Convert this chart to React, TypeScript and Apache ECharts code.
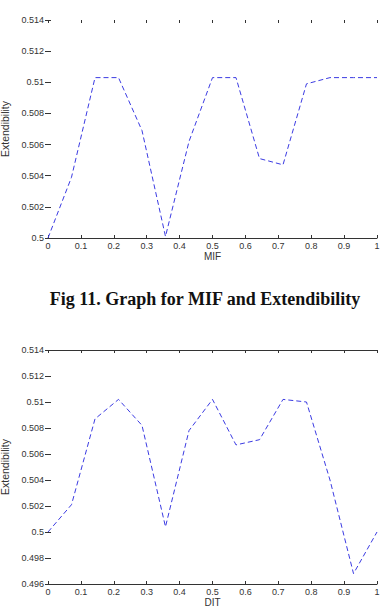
import React, { useEffect, useRef } from "react";
import * as echarts from "echarts";

// Sample positions shared by both curves (fraction of the range, 15 samples)
const samplePositions = [
  0, 0.0714, 0.1429, 0.2143, 0.2857, 0.3571, 0.4286, 0.5, 0.5714, 0.6429,
  0.7143, 0.7857, 0.8571, 0.9286, 1,
];

// Extendibility measured against MIF
const mifExtendibility = [
  0.5, 0.5039, 0.5103, 0.5103, 0.5069, 0.5001, 0.5062, 0.5103, 0.5103, 0.5051,
  0.5047, 0.5099, 0.5103, 0.5103, 0.5103,
];

// Extendibility measured against DIT
const ditExtendibility = [
  0.5, 0.5021, 0.5087, 0.5102, 0.5082, 0.5004, 0.5078, 0.5102, 0.5067, 0.5071,
  0.5102, 0.51, 0.504, 0.4968, 0.5,
];

const xTicks = [0, 0.1, 0.2, 0.3, 0.4, 0.5, 0.6, 0.7, 0.8, 0.9, 1];
const mifYRange = [0.5, 0.514];
const ditYRange = [0.496, 0.514];
const yStep = 0.002;

const captionText = "Fig 11. Graph for MIF and Extendibility";
const mifAxisName = "MIF";
const ditAxisName = "DIT";
const yAxisName = "Extendibility";

const LABEL_FONT = "'Liberation Sans', Arial, sans-serif";
const AXIS_COLOR = "#333";
const LINE_COLOR = "#3b3be2";

function xLabel(v: number): string {
  if (Math.abs(v) < 1e-9) return "0";
  if (Math.abs(v - 1) < 1e-9) return "1";
  return v.toFixed(1);
}

function yLabel(v: number): string {
  return String(Number(v.toFixed(3)));
}

function pairs(values: number[]): [number, number][] {
  return values.map((v, i) => [samplePositions[i], v]);
}

export default function App() {
  const ref = useRef<HTMLDivElement>(null);

  useEffect(() => {
    if (!ref.current) return;
    const chart = echarts.init(ref.current, undefined, { renderer: "svg" });

    const grids = [
      { left: 48, width: 329, top: 20, height: 218, outerBoundsMode: "none", containLabel: false },
      { left: 48, width: 329, top: 350, height: 234, outerBoundsMode: "none", containLabel: false },
    ];

    const bottomXAxis = (gridIndex: number, name: string) => ({
      type: "value" as const,
      gridIndex,
      position: "bottom" as const,
      min: xTicks[0],
      max: xTicks[xTicks.length - 1],
      interval: 0.1,
      name,
      nameLocation: "middle" as const,
      nameGap: 13,
      nameTextStyle: { fontFamily: LABEL_FONT, fontSize: 10, color: AXIS_COLOR },
      axisLine: { show: true, lineStyle: { color: AXIS_COLOR, width: 1 } },
      axisTick: { show: true, inside: true, length: 3, lineStyle: { color: AXIS_COLOR } },
      axisLabel: {
        show: true,
        margin: 3,
        fontFamily: LABEL_FONT,
        fontSize: 9,
        color: AXIS_COLOR,
        formatter: xLabel,
      },
      splitLine: { show: false },
    });

    const topXAxis = (gridIndex: number, showLine: boolean) => ({
      type: "value" as const,
      gridIndex,
      position: "top" as const,
      min: xTicks[0],
      max: xTicks[xTicks.length - 1],
      interval: 0.1,
      axisLine: { show: showLine, lineStyle: { color: AXIS_COLOR, width: 1 } },
      axisTick: { show: true, inside: true, length: 3, lineStyle: { color: AXIS_COLOR } },
      axisLabel: { show: false },
      splitLine: { show: false },
    });

    const leftYAxis = (gridIndex: number, range: number[]) => ({
      type: "value" as const,
      gridIndex,
      position: "left" as const,
      min: range[0],
      max: range[1],
      interval: yStep,
      name: yAxisName,
      nameLocation: "middle" as const,
      nameRotate: 90,
      nameGap: 35,
      nameTextStyle: { fontFamily: LABEL_FONT, fontSize: 10.5, color: AXIS_COLOR },
      axisLine: { show: false },
      axisTick: { show: true, inside: true, length: 3, lineStyle: { color: AXIS_COLOR } },
      axisLabel: {
        show: true,
        margin: 4,
        fontFamily: LABEL_FONT,
        fontSize: 9,
        color: AXIS_COLOR,
        formatter: yLabel,
      },
      splitLine: { show: false },
    });

    const rightYAxis = (gridIndex: number, range: number[]) => ({
      type: "value" as const,
      gridIndex,
      position: "right" as const,
      min: range[0],
      max: range[1],
      interval: yStep,
      axisLine: { show: false },
      axisTick: { show: true, inside: true, length: 3, lineStyle: { color: AXIS_COLOR } },
      axisLabel: { show: false },
      splitLine: { show: false },
    });

    const lineSeries = (axisIndex: number, values: number[]) => ({
      type: "line" as const,
      xAxisIndex: axisIndex * 2,
      yAxisIndex: axisIndex * 2,
      data: pairs(values),
      showSymbol: false,
      symbol: "none",
      lineStyle: { color: LINE_COLOR, width: 1, type: [5, 3] as number[] },
    });

    chart.setOption({
      animation: false,
      backgroundColor: "#ffffff",
      grid: grids,
      xAxis: [
        bottomXAxis(0, mifAxisName),
        topXAxis(0, false),
        bottomXAxis(1, ditAxisName),
        topXAxis(1, true),
      ],
      yAxis: [
        leftYAxis(0, mifYRange),
        rightYAxis(0, mifYRange),
        leftYAxis(1, ditYRange),
        rightYAxis(1, ditYRange),
      ],
      series: [lineSeries(0, mifExtendibility), lineSeries(1, ditExtendibility)],
      graphic: [
        {
          type: "text",
          x: 205,
          y: 299,
          style: {
            text: captionText,
            fontFamily: "'Liberation Serif', 'Times New Roman', serif",
            fontWeight: "bold",
            fontSize: 18,
            fill: "#111",
            align: "center",
            verticalAlign: "middle",
          },
        },
      ],
    });

    return () => chart.dispose();
  }, []);

  return (
    <div
      ref={ref}
      style={{ position: "absolute", left: 0, top: 0, width: 383, height: 613 }}
    />
  );
}
